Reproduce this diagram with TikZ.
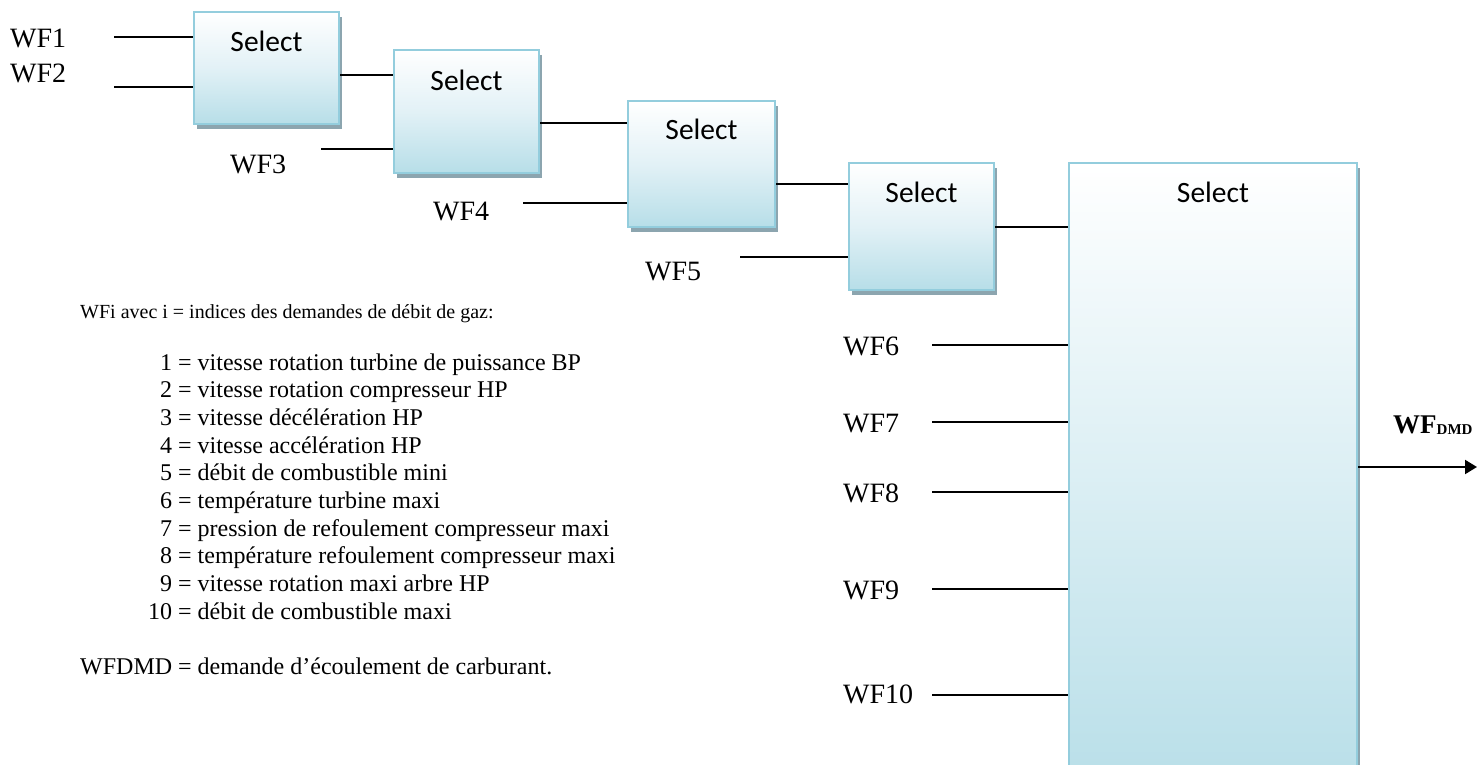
\documentclass[tikz,border=0pt]{standalone}
\usepackage{fontspec}
\setmainfont{Liberation Serif}
\newfontfamily\boxfont{Carlito}
\usetikzlibrary{arrows.meta,shadows}
\definecolor{boxedge}{RGB}{147,205,221}
\definecolor{boxlow}{RGB}{183,222,232}
\definecolor{boxmid}{RGB}{226,241,246}
\definecolor{boxshadow}{RGB}{140,165,175}

\begin{document}
\begin{tikzpicture}[x=1pt,y=-1pt,
  selbox/.style={draw=boxedge, line width=2.2pt, inner sep=0pt,
    top color=white, bottom color=boxlow, middle color=boxmid,
    drop shadow={shadow xshift=3pt, shadow yshift=-5pt, fill=boxshadow, opacity=1}},
  bigbox/.style={draw=boxedge, line width=2.2pt, inner sep=0pt,
    top color=white, bottom color=boxlow,
    drop shadow={shadow xshift=3pt, shadow yshift=-5pt, fill=boxshadow, opacity=1}},
  seltext/.style={anchor=base, inner sep=0pt, font=\boxfont\fontsize{29.5}{30}\selectfont},
  wflabel/.style={anchor=base west, inner sep=0pt, font=\fontsize{28}{30}\selectfont},
  note/.style={anchor=base west, inner sep=0pt, font=\fontsize{24}{27.6}\selectfont},
  wire/.style={line width=1.3pt, black},
  outwire/.style={line width=2pt, black, -{Triangle[length=12pt,width=14pt]}}
]
\useasboundingbox (0,0) rectangle (1478,765);
\clip (0,0) rectangle (1478,765);

% selection blocks
\node[selbox, minimum width=145pt, minimum height=112pt] (s1) at (266.5,68) {};
\node[selbox, minimum width=145pt, minimum height=123pt] (s2) at (466.5,111.5) {};
\node[selbox, minimum width=147pt, minimum height=126pt] (s3) at (701.5,164) {};
\node[selbox, minimum width=145pt, minimum height=127pt] (s4) at (921.5,226.5) {};
\node[bigbox, minimum width=288pt, minimum height=637pt] (s5) at (1213,481.5) {};

\node[seltext] (s1t) at (s1.north |- 0,52) {Select};
\node[seltext] (s2t) at (s2.north |- 0,91) {Select};
\node[seltext] (s3t) at (s3.north |- 0,140) {Select};
\node[seltext] (s4t) at (s4.north |- 0,202) {Select};
\node[seltext] (s5t) at (s5.north |- 0,202) {Select};

% input labels
\node[wflabel] (t1) at (10,48) {WF1};
\node[wflabel] (t2) at (10,83) {WF2};
\node[wflabel] (t3) at (230,173) {WF3};
\node[wflabel] (t4) at (433,220) {WF4};
\node[wflabel] (t5) at (645,280) {WF5};
\node[wflabel] (t6) at (843,355) {WF6};
\node[wflabel] (t7) at (843,432) {WF7};
\node[wflabel] (t8) at (843,502) {WF8};
\node[wflabel] (t9) at (843,599) {WF9};
\node[wflabel] (t10) at (843,703) {WF10};

% input wires
\coordinate (w1) at (114,37);
\coordinate (w2) at (114,87);
\coordinate (w3) at (321,149);
\coordinate (w4) at (523,203);
\coordinate (w5) at (740,257);
\coordinate (w6) at (932,345);
\coordinate (w7) at (932,422);
\coordinate (w8) at (932,492);
\coordinate (w9) at (932,589);
\coordinate (w10) at (932,695);
\draw[wire] (w1) -- (w1 -| s1.west);
\draw[wire] (w2) -- (w2 -| s1.west);
\draw[wire] (w3) -- (w3 -| s2.west);
\draw[wire] (w4) -- (w4 -| s3.west);
\draw[wire] (w5) -- (w5 -| s4.west);
\foreach \k in {6,...,10} {\draw[wire] (w\k) -- (w\k -| s5.west);}

% chaining between blocks
\coordinate (c12) at (0,75);
\coordinate (c23) at (0,123);
\coordinate (c34) at (0,184);
\coordinate (c45) at (0,227);
\draw[wire] (c12 -| s1.east) -- (c12 -| s2.west);
\draw[wire] (c23 -| s2.east) -- (c23 -| s3.west);
\draw[wire] (c34 -| s3.east) -- (c34 -| s4.west);
\draw[wire] (c45 -| s4.east) -- (c45 -| s5.west);

% output
\coordinate (out) at (1477,467);
\draw[outwire] (out -| s5.east) -- (out);
\node[anchor=base west, inner sep=0pt, font=\bfseries\fontsize{27}{28}\selectfont] (dmd) at (1393,433)
  {WF\raisebox{-1pt}{\fontsize{15}{16}\selectfont DMD}};

% legend
\node[note, font=\fontsize{20}{24}\selectfont] (leg0) at (80,318) {WFi avec i = indices des demandes de débit de gaz:};
\node[note] (leg1) at (148,370.0) {\makebox[24pt][r]{1} = vitesse rotation turbine de puissance BP};
\node[note] (leg2) at (148,397.7) {\makebox[24pt][r]{2} = vitesse rotation compresseur HP};
\node[note] (leg3) at (148,425.4) {\makebox[24pt][r]{3} = vitesse décélération HP};
\node[note] (leg4) at (148,453.1) {\makebox[24pt][r]{4} = vitesse accélération HP};
\node[note] (leg5) at (148,480.8) {\makebox[24pt][r]{5} = débit de combustible mini};
\node[note] (leg6) at (148,508.5) {\makebox[24pt][r]{6} = température turbine maxi};
\node[note] (leg7) at (148,536.2) {\makebox[24pt][r]{7} = pression de refoulement compresseur maxi};
\node[note] (leg8) at (148,563.9) {\makebox[24pt][r]{8} = température refoulement compresseur maxi};
\node[note] (leg9) at (148,591.6) {\makebox[24pt][r]{9} = vitesse rotation maxi arbre HP};
\node[note] (leg10) at (148,619.3) {\makebox[24pt][r]{10} = débit de combustible maxi};
\node[note] (legd) at (80,674) {WFDMD = demande d’écoulement de carburant.};
\end{tikzpicture}
\end{document}
